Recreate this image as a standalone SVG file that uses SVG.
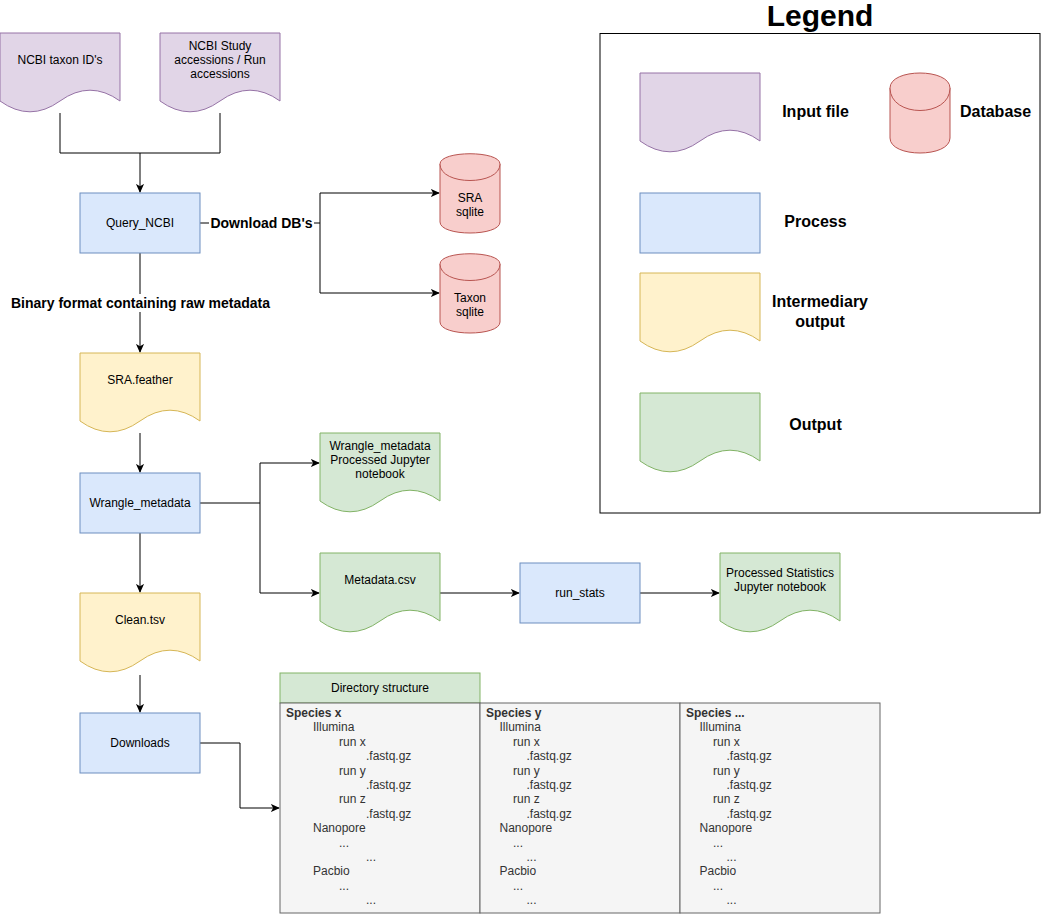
<svg xmlns="http://www.w3.org/2000/svg" width="1041" height="914" viewBox="0 0 1041 914">
<defs>
<style>
text{font-family:"Liberation Sans",Arial,Helvetica,sans-serif;font-size:12px;fill:#000;}
.c{text-anchor:middle;dominant-baseline:central;}
.b{font-weight:bold;}
.lbl{font-size:14px;font-weight:bold;}
.leg{font-size:16px;font-weight:bold;}
.input{fill:#e1d5e7;stroke:#9673a6;}
.proc{fill:#dae8fc;stroke:#6c8ebf;}
.inter{fill:#fff2cc;stroke:#d6b656;}
.out{fill:#d5e8d4;stroke:#82b366;}
.db{fill:#f8cecc;stroke:#b85450;}
.dir{fill:#f5f5f5;stroke:#666666;}
.dt{fill:#333333;dominant-baseline:central;}
.edge{fill:none;stroke:#000;stroke-width:1;}
</style>
<marker id="arr" viewBox="0 0 10 10" refX="9" refY="5" markerWidth="9" markerHeight="9" markerUnits="userSpaceOnUse" orient="auto">
<path d="M0,0.5 L10,5 L0,9.5 L2.5,5 Z" fill="#000"/>
</marker>
</defs>
<rect width="1041" height="914" fill="#fff"/>

<g id="connectors">
<path class="edge" d="M60,113 V153 H140"/>
<path class="edge" d="M220,113 V153 H140"/>
<path class="edge" d="M140,153 V192" marker-end="url(#arr)"/>
<path class="edge" d="M200,223 H320 V193 H439" marker-end="url(#arr)"/>
<path class="edge" d="M320,223 V293 H439" marker-end="url(#arr)"/>
<path class="edge" d="M140,253 V352" marker-end="url(#arr)"/>
<rect x="10" y="294" width="262" height="18" fill="#fff"/>
<text class="c lbl" x="140.5" y="302.5">Binary format containing raw metadata</text>
<rect x="209" y="214" width="105" height="18" fill="#fff"/>
<text class="c lbl" x="261.5" y="222.5">Download DB's</text>
<path class="edge" d="M140,433 V472" marker-end="url(#arr)"/>
<path class="edge" d="M200,503 H260 V463 H319" marker-end="url(#arr)"/>
<path class="edge" d="M260,503 V593 H319" marker-end="url(#arr)"/>
<path class="edge" d="M140,533 V592" marker-end="url(#arr)"/>
<path class="edge" d="M140,675 V712" marker-end="url(#arr)"/>
<path class="edge" d="M440,593 H519" marker-end="url(#arr)"/>
<path class="edge" d="M640,593 H719" marker-end="url(#arr)"/>
<path class="edge" d="M200,743 H240 V808 H279" marker-end="url(#arr)"/>
</g>

<g id="ncbi-taxon">
<path class="input" d="M0,33 H120 V101 Q90,79.4 60,101 Q30,122.6 0,101 Z"/>
<text class="c" x="60" y="60">NCBI taxon ID's</text>
</g>
<g id="ncbi-study">
<path class="input" d="M160,33 H280 V101 Q250,79.4 220,101 Q190,122.6 160,101 Z"/>
<text class="c" x="220" y="46">NCBI Study</text>
<text class="c" x="220" y="60">accessions / Run</text>
<text class="c" x="220" y="74">accessions</text>
</g>
<g id="query-ncbi">
<rect class="proc" x="80" y="193" width="120" height="60"/>
<text class="c" x="140" y="223">Query_NCBI</text>
</g>
<g id="sra-sqlite">
<path class="db" d="M440,164 C440,150.33 500,150.33 500,164 V222 C500,236.67 440,236.67 440,222 Z"/>
<path class="db" fill="none" d="M440,164 C440,186 500,186 500,164"/>
<text class="c" x="470" y="198">SRA</text>
<text class="c" x="470" y="212">sqlite</text>
</g>
<g id="taxon-sqlite">
<path class="db" d="M440,264 C440,250.33 500,250.33 500,264 V322 C500,336.67 440,336.67 440,322 Z"/>
<path class="db" fill="none" d="M440,264 C440,286 500,286 500,264"/>
<text class="c" x="470" y="298">Taxon</text>
<text class="c" x="470" y="312">sqlite</text>
</g>
<g id="sra-feather">
<path class="inter" d="M80,353 H200 V421 Q170,399.4 140,421 Q110,442.6 80,421 Z"/>
<text class="c" x="140" y="380">SRA.feather</text>
</g>
<g id="wrangle-metadata">
<rect class="proc" x="80" y="473" width="120" height="60"/>
<text class="c" x="140" y="503">Wrangle_metadata</text>
</g>
<g id="wrangle-notebook">
<path class="out" d="M320,433 H440 V501 Q410,479.4 380,501 Q350,522.6 320,501 Z"/>
<text class="c" x="380" y="446">Wrangle_metadata</text>
<text class="c" x="380" y="460">Processed Jupyter</text>
<text class="c" x="380" y="474">notebook</text>
</g>
<g id="metadata-csv">
<path class="out" d="M320,553 H440 V621 Q410,599.4 380,621 Q350,642.6 320,621 Z"/>
<text class="c" x="380" y="580">Metadata.csv</text>
</g>
<g id="run-stats">
<rect class="proc" x="520" y="563" width="120" height="60"/>
<text class="c" x="580" y="593">run_stats</text>
</g>
<g id="stats-notebook">
<path class="out" d="M720,553 H840 V621 Q810,599.4 780,621 Q750,642.6 720,621 Z"/>
<text class="c" x="780" y="573">Processed Statistics</text>
<text class="c" x="780" y="587">Jupyter notebook</text>
</g>
<g id="clean-tsv">
<path class="inter" d="M80,593 H200 V661 Q170,639.4 140,661 Q110,682.6 80,661 Z"/>
<text class="c" x="140" y="620">Clean.tsv</text>
</g>
<g id="downloads">
<rect class="proc" x="80" y="713" width="120" height="60"/>
<text class="c" x="140" y="743">Downloads</text>
</g>

<g id="directory-structure">
<rect class="out" x="280" y="673" width="200" height="30"/>
<text class="c" x="380" y="688">Directory structure</text>
</g>
<g id="species-x">
<rect class="dir" x="280" y="703" width="200" height="210"/>
<text class="dt b" x="286" y="713">Species x</text>
<text class="dt" x="313" y="727.4">Illumina</text>
<text class="dt" x="339" y="741.8">run x</text>
<text class="dt" x="366" y="756.2">.fastq.gz</text>
<text class="dt" x="339" y="770.6">run y</text>
<text class="dt" x="366" y="785">.fastq.gz</text>
<text class="dt" x="339" y="799.4">run z</text>
<text class="dt" x="366" y="813.8">.fastq.gz</text>
<text class="dt" x="313" y="828.2">Nanopore</text>
<text class="dt" x="339" y="842.6">...</text>
<text class="dt" x="366" y="857">...</text>
<text class="dt" x="313" y="871.4">Pacbio</text>
<text class="dt" x="339" y="885.8">...</text>
<text class="dt" x="366" y="900.2">...</text>
</g>
<g id="species-y">
<rect class="dir" x="480" y="703" width="200" height="210"/>
<text class="dt b" x="486" y="713">Species y</text>
<text class="dt" x="499.5" y="727.4">Illumina</text>
<text class="dt" x="513" y="741.8">run x</text>
<text class="dt" x="526.5" y="756.2">.fastq.gz</text>
<text class="dt" x="513" y="770.6">run y</text>
<text class="dt" x="526.5" y="785">.fastq.gz</text>
<text class="dt" x="513" y="799.4">run z</text>
<text class="dt" x="526.5" y="813.8">.fastq.gz</text>
<text class="dt" x="499.5" y="828.2">Nanopore</text>
<text class="dt" x="513" y="842.6">...</text>
<text class="dt" x="526.5" y="857">...</text>
<text class="dt" x="499.5" y="871.4">Pacbio</text>
<text class="dt" x="513" y="885.8">...</text>
<text class="dt" x="526.5" y="900.2">...</text>
</g>
<g id="species-other">
<rect class="dir" x="680" y="703" width="200" height="210"/>
<text class="dt b" x="686" y="713">Species ...</text>
<text class="dt" x="699.5" y="727.4">Illumina</text>
<text class="dt" x="713" y="741.8">run x</text>
<text class="dt" x="726.5" y="756.2">.fastq.gz</text>
<text class="dt" x="713" y="770.6">run y</text>
<text class="dt" x="726.5" y="785">.fastq.gz</text>
<text class="dt" x="713" y="799.4">run z</text>
<text class="dt" x="726.5" y="813.8">.fastq.gz</text>
<text class="dt" x="699.5" y="828.2">Nanopore</text>
<text class="dt" x="713" y="842.6">...</text>
<text class="dt" x="726.5" y="857">...</text>
<text class="dt" x="699.5" y="871.4">Pacbio</text>
<text class="dt" x="713" y="885.8">...</text>
<text class="dt" x="726.5" y="900.2">...</text>
</g>

<g id="legend">
<text x="820" y="26" text-anchor="middle" style="font-size:30px;font-weight:bold;">Legend</text>
<rect x="600" y="33.5" width="440" height="479.5" fill="#fff" stroke="#000"/>
<path class="input" d="M640,73 H760 V141 Q730,119.4 700,141 Q670,162.6 640,141 Z"/>
<text class="c leg" x="815.5" y="111.5">Input file</text>
<path class="db" d="M890,88 C890,68 950,68 950,88 V138 C950,158 890,158 890,138 Z"/>
<path class="db" fill="none" d="M890,88 C890,118 950,118 950,88"/>
<text class="c leg" x="995.5" y="111.5">Database</text>
<rect class="proc" x="640" y="193" width="120" height="60"/>
<text class="c leg" x="815.5" y="221.5">Process</text>
<path class="inter" d="M640,273 H760 V341 Q730,319.4 700,341 Q670,362.6 640,341 Z"/>
<text class="c leg" x="820" y="301.5">Intermediary</text>
<text class="c leg" x="820" y="321.5">output</text>
<path class="out" d="M640,393 H760 V461 Q730,439.4 700,461 Q670,482.6 640,461 Z"/>
<text class="c leg" x="815.5" y="424.5">Output</text>
</g>
</svg>
